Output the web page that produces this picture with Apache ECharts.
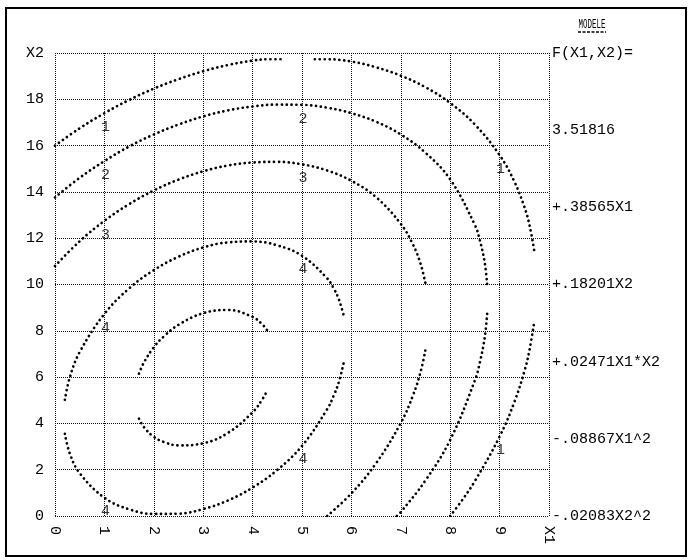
<!DOCTYPE html>
<html>
<head>
<meta charset="utf-8">
<script src="https://cdn.jsdelivr.net/npm/echarts@6/dist/echarts.min.js"></script>
<style>
html,body{margin:0;padding:0;background:#fff;}
#chart{width:692px;height:560px;}
</style>
</head>
<body>
<div id="chart"></div>
<script>
// ---- data: contour branches of F(X1,X2) ----
const level1Top = [[0,16.0],[0.5,16.75],[1,17.4],[1.5,17.97],[2,18.46],[2.5,18.87],[3,19.21],[3.5,19.48],[4,19.67],[4.3,19.73],[4.62,19.73]];
const level1TopRight = [[5.26,19.73],[5.5,19.73],[6,19.63],[6.5,19.38],[7,19.02],[7.5,18.52],[8,17.84],[8.5,16.91],[9,15.59],[9.3,14.44],[9.5,13.36],[9.6,12.62],[9.7,11.48]];
const level1Bottom = [[8.0,0],[8.25,0.71],[8.5,1.51],[9,3.43],[9.3,4.93],[9.5,6.24],[9.6,7.11],[9.7,8.37]];
const level2Top = [[0,13.76],[0.5,14.61],[1,15.33],[1.5,15.96],[2,16.48],[2.5,16.91],[3,17.26],[3.5,17.52],[4,17.69],[4.5,17.77],[5,17.76],[5.5,17.64],[6,17.40],[6.5,17.03],[7,16.48],[7.5,15.69],[8,14.54],[8.5,12.57],[8.6,11.91],[8.7,10.93],[8.75,9.94]];
const level2Bottom = [[6.92,0],[7,0.17],[7.5,1.54],[8,3.29],[8.5,5.86],[8.6,6.63],[8.7,7.73],[8.75,8.8]];
const level3Top = [[0,10.8],[0.5,11.87],[1,12.75],[1.5,13.47],[2,14.06],[2.5,14.53],[3,14.89],[3.5,15.14],[4,15.27],[4.5,15.30],[5,15.19],[5.5,14.93],[6,14.48],[6.5,13.77],[7,12.62],[7.25,11.71],[7.4,10.9],[7.5,10.04]];
const level3Bottom = [[5.51,0],[6,0.98],[6.5,2.28],[7,4.02],[7.25,5.23],[7.4,6.22],[7.5,7.19]];
const level4Top = [[0.2,5.02],[0.3,5.99],[0.5,7.08],[1,8.73],[1.5,9.83],[2,10.62],[2.5,11.2],[3,11.6],[3.5,11.82],[4,11.86],[4.5,11.69],[5,11.24],[5.5,10.29],[5.65,9.8],[5.75,9.34],[5.85,8.61]];
const level4Bottom = [[0.2,3.55],[0.3,2.7],[0.5,1.85],[1,0.79],[1.5,0.29],[2,0.09],[2.5,0.1],[3,0.3],[3.5,0.67],[4,1.23],[4.5,1.99],[5,3.03],[5.5,4.58],[5.65,5.24],[5.75,5.82],[5.85,6.67]];
const level45Top = [[1.7,6.15],[1.8,6.63],[2,7.29],[2.2,7.75],[2.5,8.26],[3,8.76],[3.5,8.9],[4,8.6],[4.2,8.27],[4.3,8.0]];
const level45Bottom = [[1.7,4.2],[1.8,3.84],[2,3.42],[2.2,3.2],[2.5,3.05],[3,3.14],[3.5,3.59],[4,4.48],[4.2,5.05],[4.3,5.44]];
// contour labels (centre of each digit)
const contourLabels = [[1.02,16.8,'1'],[9.02,14.99,'1'],[9.02,2.83,'1'],[1.02,14.73,'2'],[5.02,17.15,'2'],[1.02,12.15,'3'],[5.02,14.59,'3'],[1.02,8.13,'4'],[1.02,0.2,'4'],[5.02,10.65,'4'],[5.02,2.45,'4']];
// model text on the right
const modelTitle = 'MODELE';
const modelLines = ['F(X1,X2)=','3.51816','+.38565X1','+.18201X2','+.02471X1*X2','-.08867X1^2','-.02083X2^2'];
const xAxisName = 'X1';
const yAxisName = 'X2';

const FONT = 'Liberation Mono';
const branches = [level1Top, level1TopRight, level1Bottom, level2Top, level2Bottom, level3Top, level3Bottom, level4Top, level4Bottom, level45Top, level45Bottom];

const chart = echarts.init(document.getElementById('chart'), null, {renderer: 'canvas'});
const series = branches.map(b => ({
  type: 'line', data: b, smooth: 0.4, symbol: 'none', silent: true, clip: true,
  lineStyle: {color: '#000', width: 2.7, type: [0.1, 4.8], cap: 'round'}
}));
series.push({
  type: 'scatter', data: contourLabels, symbolSize: 0, silent: true,
  label: {show: true, position: 'inside', formatter: p => p.data[2], fontFamily: FONT, fontSize: 15, color: '#000'}
});

const gridLeft = 55, gridTop = 53, gridW = 494, gridH = 463;
const graphics = [
  {type: 'rect', shape: {x: 6, y: 8, width: 680, height: 548}, style: {fill: 'none', stroke: '#000', lineWidth: 2}},
  {type: 'text', x: 592, y: 25, scaleX: 0.62, style: {text: modelTitle, font: '12px "' + FONT + '"', fill: '#000', align: 'center', verticalAlign: 'middle'}},
  {type: 'line', shape: {x1: 578, y1: 32, x2: 606, y2: 32}, style: {stroke: '#000', lineWidth: 1.5, lineDash: [3, 1.5]}}
];
modelLines.forEach((t, i) => {
  graphics.push({type: 'text', x: 552, y: gridTop + i * gridH / 6, style: {text: t, font: '15px "' + FONT + '"', fill: '#000', align: 'left', verticalAlign: 'middle'}});
});

chart.setOption({
  animation: false,
  backgroundColor: '#fff',
  grid: {left: gridLeft, top: gridTop, width: gridW, height: gridH, containLabel: false},
  xAxis: {
    type: 'value', min: 0, max: 10, interval: 1,
    axisLine: {show: false}, axisTick: {show: false},
    splitLine: {show: true, lineStyle: {color: '#111', width: 1, type: [1, 1]}},
    axisLabel: {rotate: -90, margin: 10, fontFamily: FONT, fontSize: 15, color: '#000',
      formatter: v => v === 10 ? xAxisName : String(v), showMaxLabel: true, showMinLabel: true}
  },
  yAxis: {
    type: 'value', min: 0, max: 20, interval: 2,
    axisLine: {show: false}, axisTick: {show: false},
    splitLine: {show: true, lineStyle: {color: '#111', width: 1, type: [1, 1]}},
    axisLabel: {margin: 11, fontFamily: FONT, fontSize: 15, color: '#000',
      formatter: v => v === 20 ? yAxisName : String(v), showMaxLabel: true, showMinLabel: true}
  },
  series: series,
  graphic: graphics
});
</script>
</body>
</html>
